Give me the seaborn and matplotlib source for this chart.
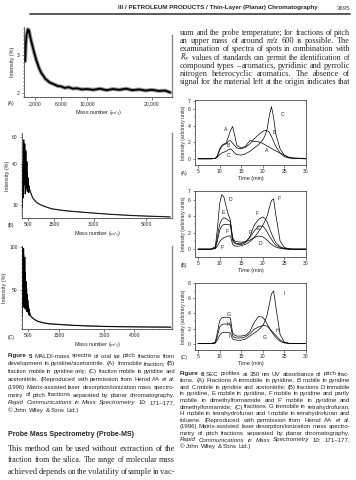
import matplotlib
matplotlib.use("Agg")
import pandas as pd
import matplotlib.pyplot as plt
import seaborn as sns
from matplotlib.lines import Line2D
from matplotlib.ticker import MultipleLocator

W, H = 356, 480

# ---- Figure 5: MALDI mass spectra (left column) ----
maldi_a_mz = [500, 600, 700, 800, 900, 1000, 1100, 1200, 1300, 1400, 1600, 1800, 2000,
              2200, 2400, 2600, 2800, 3000, 3300, 3600, 3900, 4200, 4600, 5000, 5500,
              6000, 6600, 7200, 7800, 8500, 9200, 10000, 11000, 12000, 13000, 14000,
              15000, 16000, 17000, 18000, 19000, 20000, 21000, 22000, 22800]
maldi_a_int = [2.85, 3.30, 3.52, 3.60, 3.69, 3.62, 3.66, 3.55, 3.48, 3.40, 3.26, 3.13, 3.00,
               2.88, 2.78, 2.68, 2.60, 2.53, 2.46, 2.38, 2.34, 2.29, 2.26, 2.23, 2.19,
               2.18, 2.14, 2.16, 2.12, 2.13, 2.10, 2.11, 2.09, 2.12, 2.08, 2.11,
               2.09, 2.12, 2.08, 2.10, 2.07, 2.09, 2.06, 2.07, 2.02]

maldi_b_mz = [300, 310, 320, 330, 340, 350, 360, 370, 380, 390, 400, 410, 420, 430, 440,
              450, 460, 470, 480, 490, 500, 510, 520, 530, 540, 550, 560, 600, 650, 700,
              800, 900, 1000, 1200, 1400, 1700, 2000, 2500, 3000, 3500, 4000, 4500, 5000,
              5500, 5900]
maldi_b_int = [8, 40, 15, 52, 20, 58, 25, 47, 30, 55, 18, 44, 26, 50, 22,
               38, 27, 42, 20, 34, 24, 30, 21, 27, 19, 24, 22, 20, 17, 15,
               12.5, 11, 10, 8.5, 7.2, 6.3, 5.6, 4.8, 4.0, 3.3, 2.7, 2.2, 1.8,
               1.5, 1.2]
maldi_b_grey = [15, 30, 22, 44, 26, 35, 30, 50, 24, 38, 32, 45, 28, 36, 22,
                33, 25, 30, 20, 28, 23, 26, 21, 24, 20, 22, 21, 19, 16.5, 14.5,
                12.5, 11, 10, 8.5, 7.2, 6.3, 5.6, 4.8, 4.0, 3.3, 2.7, 2.2, 1.8,
                1.5, 1.2]

maldi_c_mz = [290, 300, 310, 320, 330, 340, 350, 360, 370, 380, 390, 400, 410, 420, 430,
              440, 450, 460, 470, 480, 490, 500, 510, 520, 530, 540, 560, 600, 700, 800,
              1000, 1200, 1500, 2000, 2500, 3000, 3500, 4000, 4500, 5000, 5200]
maldi_c_int = [20, 100, 35, 92, 45, 98, 30, 80, 50, 88, 28, 70, 40, 60, 30,
               52, 25, 45, 28, 38, 24, 32, 22, 28, 21, 24, 21, 19, 16, 14,
               12, 11, 10.3, 9.2, 8.5, 8.0, 7.7, 7.5, 7.3, 7.2, 7.1]
maldi_c_grey = [30, 75, 45, 85, 55, 70, 40, 90, 45, 65, 35, 55, 45, 50, 35,
                45, 30, 38, 30, 34, 26, 30, 23, 26, 21, 23, 20, 18.5, 16, 14,
                12, 11, 10.3, 9.2, 8.5, 8.0, 7.7, 7.5, 7.3, 7.2, 7.1]

# ---- Figure 6: SEC profiles (right column) ----
time_min = [5, 8, 9, 9.5, 10, 10.5, 11, 11.5, 12, 12.5, 13, 13.5, 14, 15, 16, 17, 18, 19,
            20, 20.5, 21, 21.5, 22, 22.5, 23, 24, 25, 26, 27, 28, 30]
sec_a = {
    "A": [0, 0, 0.05, 0.4, 1.2, 1.6, 1.8, 1.9, 2.6, 3.4, 3.9, 2.8, 1.6, 1.3, 1.5, 2.2, 2.1, 2.05,
          1.85, 1.7, 1.55, 1.4, 1.25, 1.1, 0.95, 0.7, 0.45, 0.2, 0.08, 0.03, 0],
    "B": [0, 0, 0.05, 0.3, 1.0, 1.5, 1.7, 1.8, 2.1, 2.2, 1.9, 1.6, 1.3, 1.2, 1.4, 1.8, 2.4, 2.9,
          3.3, 3.4, 3.4, 3.2, 2.7, 2.1, 1.5, 0.7, 0.25, 0.1, 0.05, 0.02, 0],
    "C": [0, 0, 0.02, 0.2, 0.5, 0.7, 0.8, 0.9, 1.1, 1.2, 1.0, 0.7, 0.5, 0.45, 0.6, 0.9, 1.3, 1.7,
          2.3, 2.8, 3.6, 5.2, 6.3, 5.0, 3.0, 1.2, 0.4, 0.15, 0.1, 0.08, 0.05],
}
sec_b = {
    "D": [0, 0, 0.3, 2.5, 5.5, 6.6, 6.3, 5.2, 4.2, 3.5, 1.4, 1.0, 0.9, 0.85, 0.9, 1.1, 1.4, 1.6,
          1.5, 1.3, 1.1, 0.8, 0.6, 0.4, 0.25, 0.1, 0.03, 0, 0, 0, 0],
    "E": [0, 0, 0.2, 1.5, 3.0, 3.6, 3.8, 3.7, 3.5, 3.3, 1.2, 0.8, 0.7, 0.7, 0.9, 1.4, 2.2, 2.8,
          2.8, 2.5, 2.1, 1.6, 1.2, 0.8, 0.5, 0.2, 0.05, 0, 0, 0, 0],
    "F": [0, 0, 0.1, 1.0, 2.3, 2.8, 3.0, 3.0, 3.0, 2.9, 1.0, 0.7, 0.6, 0.55, 0.8, 1.5, 2.9, 3.6,
          3.9, 3.7, 3.3, 2.6, 1.9, 1.3, 0.8, 0.3, 0.08, 0.02, 0, 0, 0],
    "F'": [0, 0, 0.05, 0.4, 0.9, 1.2, 1.4, 1.5, 1.6, 1.6, 0.6, 0.4, 0.35, 0.4, 0.6, 0.9, 1.4, 2.1,
           2.9, 3.4, 4.0, 5.0, 5.9, 6.1, 4.2, 1.0, 0.2, 0.05, 0, 0, 0],
}
sec_c = {
    "G": [0, 0, 0.2, 1.5, 3.0, 3.4, 3.5, 3.5, 3.5, 3.4, 1.4, 1.1, 1.0, 1.0, 1.1, 1.6, 2.8, 3.6,
          3.5, 3.1, 2.6, 2.1, 1.6, 1.2, 0.8, 0.3, 0.08, 0.02, 0, 0, 0],
    "H": [0, 0, 0.1, 1.0, 2.2, 2.5, 2.6, 2.6, 2.6, 2.5, 1.0, 0.8, 0.75, 0.75, 0.9, 1.3, 1.9, 2.2,
          2.4, 2.4, 2.3, 2.0, 1.7, 1.4, 1.1, 0.5, 0.15, 0.04, 0, 0, 0],
    "I": [0, 0, 0.05, 0.5, 1.1, 1.4, 1.5, 1.5, 1.5, 1.4, 0.6, 0.5, 0.45, 0.45, 0.6, 1.0, 1.4, 1.8,
          2.4, 3.0, 3.8, 5.2, 6.6, 7.0, 5.0, 1.2, 0.2, 0.05, 0, 0, 0],
}
labels_a = [("A", 11.4, 3.5), ("B", 11.9, 1.6), ("C", 12.0, 0.35),
            ("C", 24.6, 5.3), ("B", 22.6, 3.2), ("A", 20.8, 1.0)]
labels_b = [("D", 12.4, 6.0), ("E", 10.9, 4.4), ("F", 11.8, 2.2), ("F'", 10.6, 0.25),
            ("F", 18.7, 4.3), ("E", 19.0, 2.5), ("D", 19.4, 0.7), ("F'", 24.0, 6.2),
            ("F'", 17.2, 2.0)]
labels_c = [("G", 12.0, 3.9), ("H'", 12.2, 2.5), ("I", 12.2, 0.9),
            ("I", 25.0, 6.6), ("H", 23.4, 1.7), ("G", 20.4, 0.8)]

caption5 = [
    "^Figure ^5  MALDI-mass spectra of coal tar pitch fractions from",
    "development in pyridine/acetonitrile. (A) Immobile fraction; (B)",
    "fraction mobile in pyridine only; (C) fraction mobile in pyridine and",
    "acetonitrile. (Reproduced with permission from Herod AA _et _al.",
    "(1996) Matrix-assisted laser desorption/ionization mass spectro-",
    "metry of pitch fractions separated by planar chromatography.",
    "_Rapid _Communications _in _Mass _Spectrometry 10: 171\u2013177,",
    "\u00a9 John Wiley & Sons Ltd.)",
]
caption6 = [
    "^Figure ^6  SEC profiles at 350 nm UV absorbance of pitch frac-",
    "tions. (A) Fractions A immobile in pyridine, B mobile in pyridine",
    "and C mobile in pyridine and acetonitrile; (B) fractions D immobile",
    "in pyridine, E mobile in pyridine, F mobile in pyridine and partly",
    "mobile in dimethylformamide and F\u2032 mobile in pyridine and",
    "dimethylformamide; (C) fractions G immobile in tetrahydrofuran,",
    "H mobile in tetrahydrofuran and I mobile in tetrahydrofuran and",
    "toluene. (Reproduced with permission from Herod AA _et _al.",
    "(1996) Matrix-assisted laser desorption/ionization mass spectro-",
    "metry of pitch fractions separated by planar chromatography.",
    "_Rapid _Communications _in _Mass _Spectrometry 10: 171\u2013177,",
    "\u00a9 John Wiley & Sons Ltd.)",
]
body_right = [
    "uum and the probe temperature; for fractions of pitch",
    "an upper mass of around _m/z 600 is possible. The",
    "examination of spectra of spots in combination with",
    "$R_F$ values of standards can permit the identification of",
    "compound types \u2013 aromatics, pyridinic and pyrrolic",
    "nitrogen heterocyclic aromatics. The absence of",
    "signal for the material left at the origin indicates that",
]
body_left = [
    "This method can be used without extraction of the",
    "fraction from the silica. The range of molecular mass",
    "achieved depends on the volatility of sample in vac-",
]

sns.set_style("ticks")
plt.rcParams["font.family"] = ["Liberation Sans", "DejaVu Sans"]
plt.rcParams["mathtext.fontset"] = "stix"
plt.rcParams["axes.linewidth"] = 0.5
for a in ("x", "y"):
    plt.rcParams[f"{a}tick.major.width"] = 0.4
    plt.rcParams[f"{a}tick.minor.width"] = 0.3
    plt.rcParams[f"{a}tick.major.size"] = 1.8
    plt.rcParams[f"{a}tick.minor.size"] = 1.0
    plt.rcParams[f"{a}tick.major.pad"] = 1.2
    plt.rcParams[f"{a}tick.labelsize"] = 3.6

fig = plt.figure(figsize=(W / 100, H / 100), dpi=100)
renderer = fig.canvas.get_renderer()
sans = ["Liberation Sans", "DejaVu Sans"]
serif = ["Liberation Serif", "DejaVu Serif"]


def box(x0, y0, x1, y1):
    return fig.add_axes([x0 / W, 1 - y1 / H, (x1 - x0) / W, (y1 - y0) / H])


def put(x, y, s, **kw):
    return fig.text(x / W, 1 - y / H, s, **kw)


def word_style(w):
    if w.startswith("^"):
        return w[1:], dict(weight="bold")
    if w.startswith("_"):
        return w[1:], dict(style="italic")
    return w, {}


def line_words(line, size, family, y):
    arts = []
    for w in line.split(" "):
        if not w:
            continue
        txt, st = word_style(w)
        arts.append(put(0, y, txt, fontsize=size, family=family, va="center", **st))
    widths = [a.get_window_extent(renderer).width for a in arts]
    return arts, widths


def line_fit(line, width, family, ref=10.0):
    arts, widths = line_words(line, ref, family, -50)
    nat = sum(widths) + 0.25 * ref * 100 / 72 * (len(arts) - 1)
    for a in arts:
        a.remove()
    return ref * width / nat


def paragraph(lines, x0, x1, y0, dy, family, justify_last=False):
    # typeset justified lines; long lines get a slightly smaller size instead of huge gaps elsewhere
    fits = [line_fit(l, x1 - x0, family) for l in lines[:-1]]
    base = sorted(fits)[len(fits) // 2]
    for i, line in enumerate(lines):
        last = i == len(lines) - 1
        size = base if last else min(base, fits[i])
        arts, widths = line_words(line, size, family, y0 + i * dy)
        space = 0.25 * size * 100 / 72
        natural = last and not justify_last
        gap = space if (natural or len(arts) < 2) else (x1 - x0 - sum(widths)) / (len(arts) - 1)
        x = x0
        for a, w in zip(arts, widths):
            a.set_x(x / W)
            x += w + gap


# running header and rule
head = put(318, 8, "III / PETROLEUM PRODUCTS / Thin-Layer (Planar) Chromatography",
           fontsize=10, weight="bold", ha="right", va="center")
head.set_fontsize(10 * 200 / head.get_window_extent(renderer).width)
put(350, 8, "3695", fontsize=4.4, ha="right", va="center", color="0.25")
fig.add_artist(Line2D([30 / W, 350 / W], [1 - 14 / H] * 2, transform=fig.transFigure,
                      color="0.3", lw=1.3))


def spectrum_axes(ax, xl, yl, xt, xtl, yt, minor_x, minor_y, right_lo=None):
    ax.set_xlim(*xl)
    ax.set_ylim(*yl)
    ax.set_xticks(xt)
    ax.set_xticklabels(xtl)
    ax.set_yticks(yt)
    ax.set_yticklabels([str(v) for v in yt])
    ax.xaxis.set_minor_locator(MultipleLocator(minor_x))
    ax.yaxis.set_minor_locator(MultipleLocator(minor_y))
    ax.spines["top"].set_visible(False)
    ax.spines["right"].set_color("0.55")
    ax.spines["right"].set_linewidth(1.0)
    if right_lo is not None:
        ax.spines["right"].set_bounds(*right_lo)
    ax.set_xlabel("Mass number ($\\it{m/z}$)", fontsize=3.9, labelpad=1.5)
    ax.set_ylabel("Intensity (%)", fontsize=3.9, labelpad=1.5)


# Fig 5 (A)
ax = box(24, 27, 172, 97)
sns.lineplot(x=maldi_a_mz, y=maldi_a_int, color="0.6", lw=2.8, ax=ax)
sns.lineplot(x=maldi_a_mz, y=maldi_a_int, color="black", lw=1.3, ax=ax)
spectrum_axes(ax, (320, 23070), (1.9, 3.75), [2000, 6000, 10000, 20000],
              ["2,000", "6,000", "10,000", "20,000"], [2, 3], 500, 0.1, (1.9, 3.55))
put(8, 103, "(A)", fontsize=3.6, va="center")

# Fig 5 (B)
ax = box(22, 133, 172, 218)
sns.lineplot(x=maldi_b_mz, y=maldi_b_grey, color="0.6", lw=1.0, ax=ax)
sns.lineplot(x=maldi_b_mz, y=maldi_b_int, color="black", lw=0.6, ax=ax)
spectrum_axes(ax, (280, 5970), (0.4, 63), [500, 1500, 3000, 5000],
              ["500", "1500", "3000", "5000"], [10, 40, 60], 200, 2)
put(8, 226, "(B)", fontsize=3.6, va="center")

# Fig 5 (C)
ax = box(22, 246, 172, 329)
sns.lineplot(x=maldi_c_mz, y=maldi_c_grey, color="0.6", lw=1.0, ax=ax)
sns.lineplot(x=maldi_c_mz, y=maldi_c_int, color="black", lw=0.7, ax=ax)
spectrum_axes(ax, (286, 5240), (5, 101), [500, 1500, 3000, 4000],
              ["500", "1500", "3000", "4000"], [50, 100], 200, 5)
put(8, 337, "(C)", fontsize=3.6, va="center")

paragraph(caption5, 8, 175, 356, 7.8, sans)

put(8, 434, "Probe Mass Spectrometry (Probe-MS)", fontsize=5.0, weight="bold", va="center")
paragraph(body_left, 8, 175, 449, 11.5, serif, justify_last=True)


def sec_panel(y0, y1, series, labels, ylim, yticks, letter):
    ax = box(195, y0, 306, y1)
    df = pd.DataFrame([(t, v, k) for k, vals in series.items() for t, v in zip(time_min, vals)],
                      columns=["time", "intensity", "fraction"])
    sns.lineplot(data=df, x="time", y="intensity", units="fraction", estimator=None,
                 color="black", lw=0.5, ax=ax)
    for s, tx, ty in labels:
        ax.text(tx, ty, s, fontsize=3.7, ha="center", va="center")
    ax.set_xlim(4.3, 30)
    ax.set_ylim(*ylim)
    ax.set_xticks([5, 10, 15, 20, 25, 30])
    ax.xaxis.set_minor_locator(MultipleLocator(2.5))
    ax.set_yticks(yticks)
    ax.yaxis.set_minor_locator(MultipleLocator(1))
    ax.set_xlabel("Time (min)", fontsize=3.9, labelpad=1.2)
    ax.set_ylabel("Intensity (arbitrary units)", fontsize=3.6, labelpad=1.5)
    put(181, y1 + 8, letter, fontsize=3.6, va="center")
    return ax


sec_panel(100, 165, sec_a, labels_a, (-0.75, 7.1), [0, 2, 4, 6, 7], "(A)")
sec_panel(191, 257, sec_b, labels_b, (-0.95, 7.05), [0, 2, 4, 6, 7], "(B)")
sec_panel(283, 350, sec_c, labels_c, (-0.85, 8.05), [0, 2, 4, 6, 8], "(C)")

paragraph(body_right, 180, 350, 33, 8.2, serif, justify_last=True)
paragraph(caption6, 180, 350, 374, 6.6, sans)

fig.savefig("out.png", dpi=100)
